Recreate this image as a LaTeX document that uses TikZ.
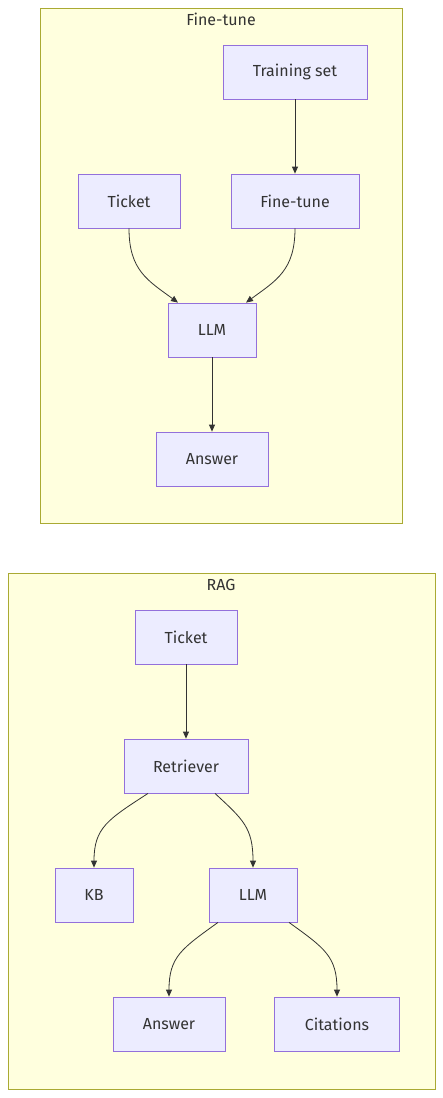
\documentclass[tikz,border=0pt]{standalone}
\usepackage{fontspec}
\setmainfont{Fira Sans}
\usepackage{xcolor}
\usetikzlibrary{arrows.meta,positioning}
\definecolor{clfill}{HTML}{FFFFDE}
\definecolor{cldraw}{HTML}{AAAA33}
\definecolor{ndfill}{HTML}{ECECFF}
\definecolor{nddraw}{HTML}{9370DB}
\definecolor{txt}{HTML}{333333}

\begin{document}
\begin{tikzpicture}[x=1pt,y=-1pt, cluster/.style={draw=cldraw,fill=clfill,line width=0.8pt},
  box/.style={draw=nddraw,fill=ndfill,line width=0.8pt,inner sep=0pt,text=txt,
  font=\fontsize{16}{19}\selectfont,minimum height=54pt},
  title/.style={text=txt,font=\fontsize{16}{19}\selectfont},
  >={Triangle[length=7pt,width=6pt]}, edge/.style={->,draw=txt,line width=0.8pt}]
\useasboundingbox (0,0) rectangle (443,1098);
% Fine-tune cluster
\draw[cluster] (40,8) rectangle (402,523);
\node[title] (ftt) at (221,19) {Fine-tune};
\node[box,minimum width=144pt] (ts) at (295,72) {Training set};
\node[box,minimum width=102pt] (tk1) at (129,201) {Ticket};
\node[box,minimum width=128pt] (ft) at (295,201) {Fine-tune};
\node[box,minimum width=88pt] (llm1) at (212,330) {LLM};
\node[box,minimum width=112pt] (ans1) at (212,459) {Answer};
\draw[edge] (ts) -- (ft);
\draw[edge] (tk1.south) .. controls ++(0,42) and ++(-30,-22) .. ([xshift=-34pt]llm1.north);
\draw[edge] (ft.south) .. controls ++(0,42) and ++(30,-22) .. ([xshift=34pt]llm1.north);
\draw[edge] (llm1) -- (ans1);
% RAG cluster
\draw[cluster] (8,573) rectangle (435,1089);
\node[title] (ragt) at (221,585) {RAG};
\node[box,minimum width=102pt] (tk2) at (186,637) {Ticket};
\node[box,minimum width=124pt] (ret) at (186,766) {Retriever};
\node[box,minimum width=78pt] (kb) at (94,895) {KB};
\node[box,minimum width=88pt] (llm2) at (253,895) {LLM};
\node[box,minimum width=112pt] (ans2) at (169,1024) {Answer};
\node[box,minimum width=125pt] (cit) at (337,1024) {Citations};
\draw[edge] (tk2) -- (ret);
\draw[edge] ([xshift=-38pt]ret.south) .. controls ++(-40,26) and ++(0,-40) .. (kb.north);
\draw[edge] ([xshift=29pt]ret.south) .. controls ++(28,26) and ++(0,-40) .. (llm2.north);
\draw[edge] ([xshift=-35pt]llm2.south) .. controls ++(-36,26) and ++(0,-40) .. (ans2.north);
\draw[edge] ([xshift=36pt]llm2.south) .. controls ++(36,26) and ++(0,-40) .. (cit.north);
\end{tikzpicture}
\end{document}
